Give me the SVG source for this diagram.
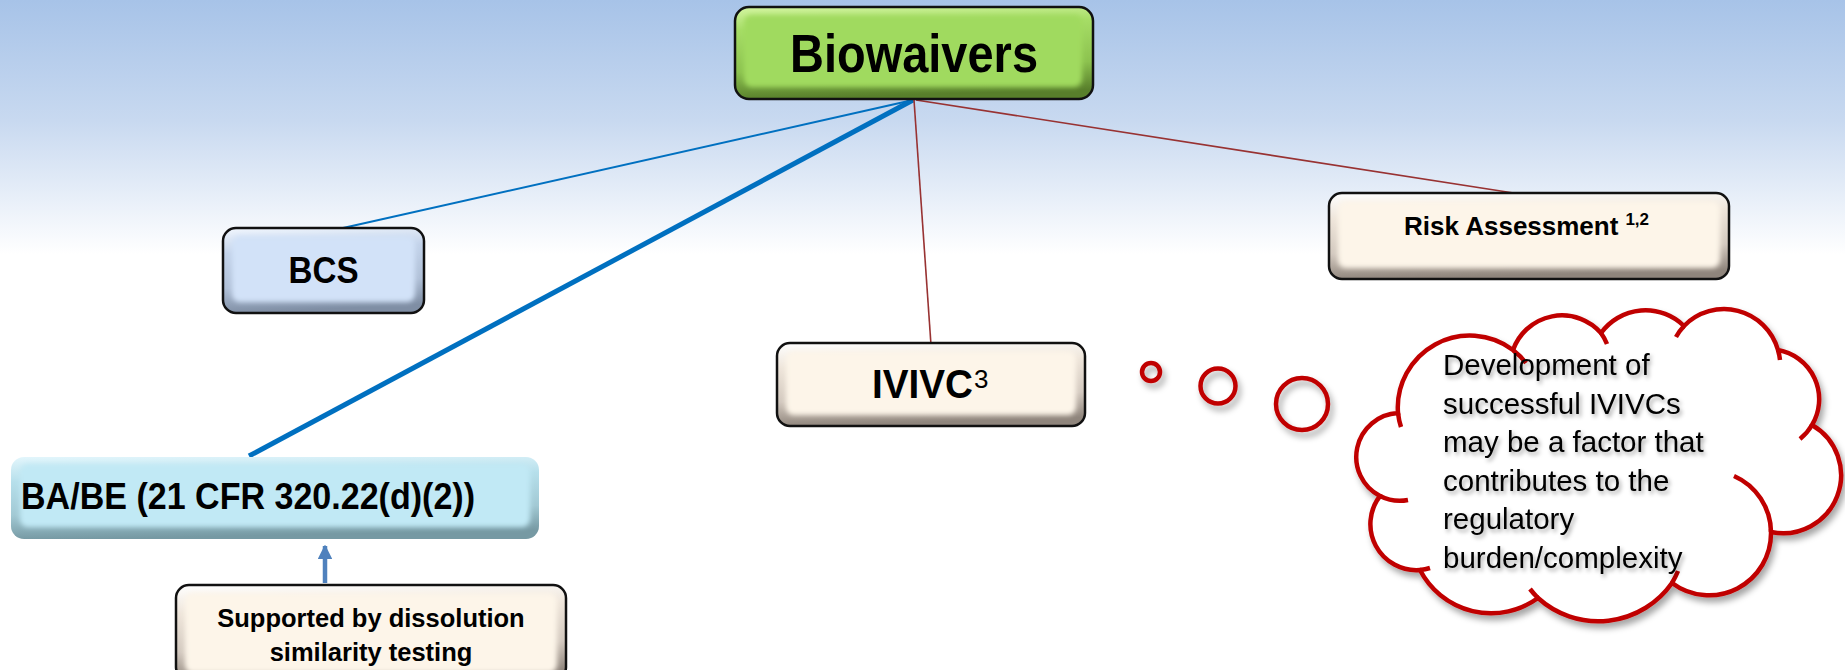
<svg xmlns="http://www.w3.org/2000/svg" width="1845" height="670" viewBox="0 0 1845 670">
<defs>
  <linearGradient id="bg" x1="0" y1="0" x2="0" y2="1">
    <stop offset="0" stop-color="#a7c3e8"/>
    <stop offset="0.18" stop-color="#c8d9f0"/>
    <stop offset="0.38" stop-color="#ffffff"/>
    <stop offset="1" stop-color="#ffffff"/>
  </linearGradient>
  <linearGradient id="eGreen" x1="0" y1="0" x2="0.12" y2="1">
    <stop offset="0" stop-color="#d4f5a2"/>
    <stop offset="0.25" stop-color="#a6dd66"/>
    <stop offset="0.7" stop-color="#8cc24f"/>
    <stop offset="1" stop-color="#587f2b"/>
  </linearGradient>
  <linearGradient id="eBlue" x1="0" y1="0" x2="0.12" y2="1">
    <stop offset="0" stop-color="#f2f7fe"/>
    <stop offset="0.3" stop-color="#c3d3ea"/>
    <stop offset="0.7" stop-color="#b0c0d7"/>
    <stop offset="1" stop-color="#7f8ea4"/>
  </linearGradient>
  <linearGradient id="eCyan" x1="0" y1="0" x2="0.12" y2="1">
    <stop offset="0" stop-color="#e3f6fc"/>
    <stop offset="0.3" stop-color="#b6dfeb"/>
    <stop offset="0.7" stop-color="#a2c9d4"/>
    <stop offset="1" stop-color="#7699a3"/>
  </linearGradient>
  <linearGradient id="eCream" x1="0" y1="0" x2="0.12" y2="1">
    <stop offset="0" stop-color="#ffffff"/>
    <stop offset="0.3" stop-color="#eee5da"/>
    <stop offset="0.7" stop-color="#d3c9bf"/>
    <stop offset="1" stop-color="#8f857c"/>
  </linearGradient>
  <filter id="soft" x="-10%" y="-20%" width="120%" height="140%">
    <feGaussianBlur stdDeviation="2.5"/>
  </filter>
  <filter id="shadow" x="-10%" y="-10%" width="130%" height="130%">
    <feDropShadow dx="3" dy="5" stdDeviation="3" flood-color="#000" flood-opacity="0.35"/>
  </filter>
  <filter id="tshadow" x="-5%" y="-20%" width="115%" height="150%">
    <feDropShadow dx="2" dy="3" stdDeviation="2" flood-color="#000" flood-opacity="0.35"/>
  </filter>
  <marker id="arrow" viewBox="0 0 10 10" refX="9" refY="5" markerWidth="3.2" markerHeight="3.2" orient="auto">
    <path d="M0,0 L10,5 L0,10 z" fill="#4f81bd"/>
  </marker>
</defs>
<style>
  .edge { stroke:#111; stroke-width:2.5; }
  .b { font-family:"Liberation Sans", Arial, sans-serif; font-weight:bold; fill:#000; }
  .r { font-family:"Liberation Sans", Arial, sans-serif; fill:#000; }
  .cloud { fill:#fff; stroke:#c00000; stroke-width:4.5; }
  .hook { fill:none; stroke:#c00000; stroke-width:4.5; }
  .bubble { fill:none; stroke:#c00000; stroke-width:4.5; }
</style>

<rect x="0" y="0" width="1845" height="670" fill="url(#bg)"/>

<g id="connectors">
  <line x1="343" y1="228" x2="913" y2="100" stroke="#0070c0" stroke-width="2"/>
  <line x1="249" y1="456" x2="913" y2="100" stroke="#0070c0" stroke-width="5"/>
  <line x1="914" y1="100" x2="931" y2="345" stroke="#983232" stroke-width="1.6"/>
  <line x1="916" y1="100" x2="1520" y2="194" stroke="#983232" stroke-width="1.6"/>
  <line x1="325" y1="583" x2="325" y2="546" stroke="#4f81bd" stroke-width="4.5" marker-end="url(#arrow)"/>
</g>

<g id="biowaivers">
  <rect class="edge" x="735" y="7" width="358" height="92" rx="14" fill="url(#eGreen)"/>
  <rect x="744" y="15" width="338" height="72" rx="8" fill="#a0da5e" filter="url(#soft)"/>
  <text class="b" x="914" y="72" font-size="53" text-anchor="middle" textLength="248" lengthAdjust="spacingAndGlyphs">Biowaivers</text>
</g>

<g id="bcs">
  <rect class="edge" x="223" y="228" width="201" height="85" rx="13" fill="url(#eBlue)"/>
  <rect x="232" y="236" width="183" height="66" rx="8" fill="#d2e2f8" filter="url(#soft)"/>
  <text class="b" x="323.5" y="283" font-size="36" text-anchor="middle" textLength="70" lengthAdjust="spacingAndGlyphs">BCS</text>
</g>

<g id="babe">
  <rect x="11" y="457" width="528" height="82" rx="13" fill="url(#eCyan)"/>
  <rect x="20" y="464" width="510" height="63" rx="8" fill="#c1e9f5" filter="url(#soft)"/>
  <text class="b" x="21" y="509" font-size="36" textLength="454" lengthAdjust="spacingAndGlyphs">BA/BE (21 CFR 320.22(d)(2))</text>
</g>

<g id="supported">
  <rect class="edge" x="176" y="585" width="390" height="95" rx="13" fill="url(#eCream)"/>
  <rect x="185" y="593" width="372" height="80" rx="8" fill="#fdf5e9" filter="url(#soft)"/>
  <text class="b" x="371" y="627" font-size="25.5" text-anchor="middle">Supported by dissolution</text>
  <text class="b" x="371" y="661" font-size="25.5" text-anchor="middle">similarity testing</text>
</g>

<g id="ivivc">
  <rect class="edge" x="777" y="343" width="308" height="83" rx="13" fill="url(#eCream)"/>
  <rect x="786" y="351" width="290" height="64" rx="8" fill="#fdf5e9" filter="url(#soft)"/>
  <text class="b" x="872" y="398" font-size="40" textLength="101" lengthAdjust="spacingAndGlyphs">IVIVC</text>
  <text class="r" x="974" y="388" font-size="26">3</text>
</g>

<g id="risk">
  <rect class="edge" x="1329" y="193" width="400" height="86" rx="13" fill="url(#eCream)"/>
  <rect x="1338" y="201" width="382" height="67" rx="8" fill="#fdf5e9" filter="url(#soft)"/>
  <text class="b" x="1404" y="235" font-size="26">Risk Assessment<tspan dx="7" dy="-10" font-size="17">1,2</tspan></text>
</g>

<g id="thought">
  <g filter="url(#shadow)">
    <circle class="bubble" cx="1151" cy="372" r="9"/>
    <circle class="bubble" cx="1218" cy="386" r="17.5"/>
    <circle class="bubble" cx="1302" cy="404" r="26"/>
    <path class="cloud" d="M1380,496 A44,44 0 0 1 1398,413 A72,72 0 0 1 1513,350 A52,52 0 0 1 1601,333 A55,55 0 0 1 1684,326 A56,56 0 0 1 1778,350 A50,50 0 0 1 1812,425 A58,58 0 0 1 1771,532 A62,62 0 0 1 1672,583 A90,90 0 0 1 1538,598 A80,80 0 0 1 1420,570 A46,46 0 0 1 1380,496 Z"/>
    <path class="hook" d="M1398,413 A72,72 0 0 0 1401,427 M1513,350 A72,72 0 0 1 1526,363 M1601,333 A52,52 0 0 1 1607,344 M1684,326 A56,56 0 0 0 1676,337 M1778,350 A56,56 0 0 1 1780,360 M1812,425 A50,50 0 0 1 1800,439 M1771,532 A62,62 0 0 0 1734,476 M1672,583 A90,90 0 0 0 1678,571 M1538,598 A90,90 0 0 1 1530,589 M1420,570 A46,46 0 0 0 1430,568 M1380,496 A44,44 0 0 0 1408,500"/>
  </g>
  <g filter="url(#tshadow)">
    <text class="r" x="1443" y="375" font-size="29.5">Development of</text>
    <text class="r" x="1443" y="413.5" font-size="29.5">successful IVIVCs</text>
    <text class="r" x="1443" y="452" font-size="29.5">may be a factor that</text>
    <text class="r" x="1443" y="490.5" font-size="29.5">contributes to the</text>
    <text class="r" x="1443" y="529" font-size="29.5">regulatory</text>
    <text class="r" x="1443" y="567.5" font-size="29.5">burden/complexity</text>
  </g>
</g>
</svg>
